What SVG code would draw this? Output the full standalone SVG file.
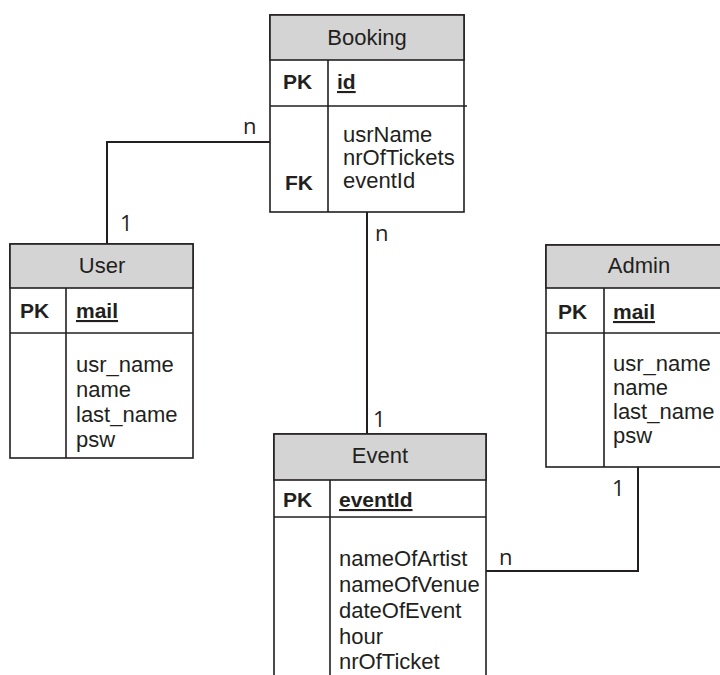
<svg xmlns="http://www.w3.org/2000/svg" width="720" height="675" viewBox="0 0 720 675">
<style>
.box{fill:#fff;stroke:#231f20;stroke-width:1.6}
.hdr{fill:#d4d4d4;stroke:#231f20;stroke-width:1.6}
.ln{stroke:#231f20;stroke-width:1.6;fill:none}
.con{stroke:#231f20;stroke-width:2;fill:none}
text{font-family:"Liberation Sans",Arial,sans-serif;font-size:22px;fill:#231f20}
.t{text-anchor:middle}
.b{font-weight:bold;font-size:21px}
.u{font-weight:bold;font-size:21px;text-decoration:underline}
.lbl{font-family:"Open Sans","DejaVu Sans",sans-serif;font-size:22px}
</style>
<g id="connectors">
<polyline class="con" points="271,142 107,142 107,244"/>
<line class="con" x1="367" y1="212" x2="367" y2="434"/>
<polyline class="con" points="638,467 638,571 486,571"/>
<text class="lbl" x="243" y="134">n</text>
<text class="lbl" x="120" y="231">1</text>
<text class="lbl" x="375" y="241">n</text>
<text class="lbl" x="373" y="427">1</text>
<text class="lbl" x="612" y="496">1</text>
<text class="lbl" x="499" y="565">n</text>
</g>
<g id="booking">
<rect class="box" x="270" y="15" width="194" height="197"/>
<rect class="hdr" x="270" y="15" width="194" height="45"/>
<line class="ln" x1="270" y1="106" x2="467" y2="106"/>
<line class="ln" x1="328" y1="60" x2="328" y2="212"/>
<text class="t" x="367" y="45">Booking</text>
<text class="b" x="283" y="89">PK</text>
<text class="u" x="337" y="89">id</text>
<text class="b" x="285" y="190">FK</text>
<text x="343" y="142">usrName</text>
<text x="343" y="165">nrOfTickets</text>
<text x="343" y="188">eventId</text>
</g>
<g id="user">
<rect class="box" x="10" y="244" width="183" height="214"/>
<rect class="hdr" x="10" y="244" width="183" height="44"/>
<line class="ln" x1="10" y1="333" x2="193" y2="333"/>
<line class="ln" x1="66" y1="288" x2="66" y2="458"/>
<text class="t" x="102" y="273">User</text>
<text class="b" x="20" y="318">PK</text>
<text class="u" x="76" y="318">mail</text>
<text x="76" y="372">usr_name</text>
<text x="76" y="397">name</text>
<text x="76" y="422">last_name</text>
<text x="76" y="447">psw</text>
</g>
<g id="admin">
<rect class="box" x="546" y="245" width="190" height="222"/>
<rect class="hdr" x="546" y="245" width="190" height="43"/>
<line class="ln" x1="546" y1="333" x2="736" y2="333"/>
<line class="ln" x1="604" y1="288" x2="604" y2="467"/>
<text class="t" x="639" y="273">Admin</text>
<text class="b" x="558" y="319">PK</text>
<text class="u" x="613" y="319">mail</text>
<text x="613" y="371">usr_name</text>
<text x="613" y="395">name</text>
<text x="613" y="419">last_name</text>
<text x="613" y="443">psw</text>
</g>
<g id="event">
<rect class="box" x="274" y="434" width="212" height="250"/>
<rect class="hdr" x="274" y="434" width="212" height="46"/>
<line class="ln" x1="274" y1="517" x2="486" y2="517"/>
<line class="ln" x1="330" y1="480" x2="330" y2="684"/>
<text class="t" x="380" y="463">Event</text>
<text class="b" x="283" y="507">PK</text>
<text class="u" x="339" y="507">eventId </text>
<text x="339" y="566">nameOfArtist</text>
<text x="339" y="592">nameOfVenue</text>
<text x="339" y="618">dateOfEvent</text>
<text x="339" y="644">hour</text>
<text x="339" y="669">nrOfTicket</text>
</g>
</svg>
